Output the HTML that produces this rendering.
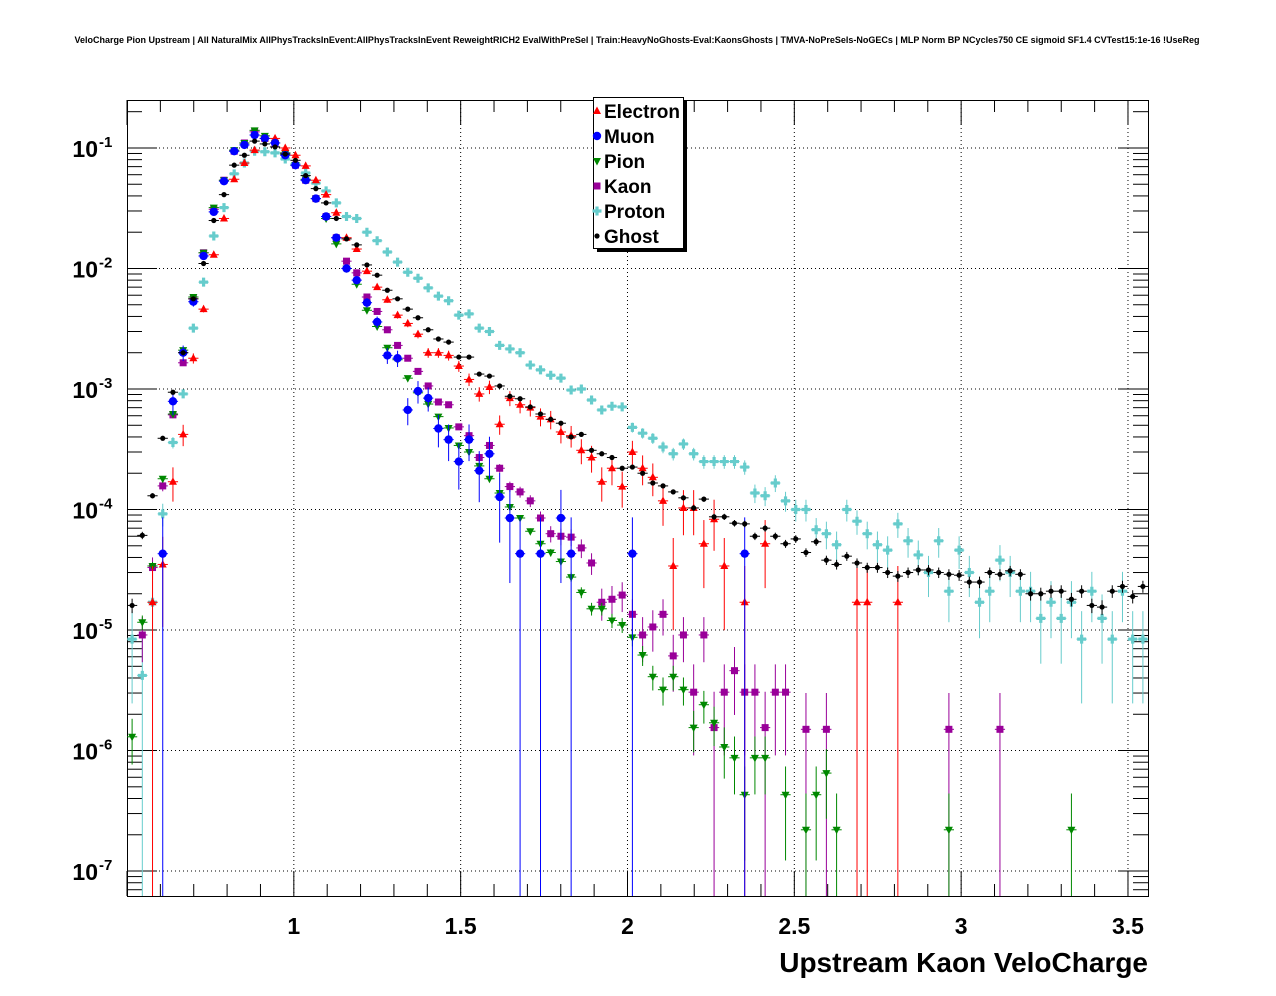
<!DOCTYPE html>
<html><head><meta charset="utf-8"><style>
html,body{margin:0;padding:0;background:#fff;}
svg{display:block;font-family:"Liberation Sans",Arial,sans-serif;}
</style></head><body>
<svg id="chart" width="1276" height="996" viewBox="0 0 1276 996" xmlns="http://www.w3.org/2000/svg">
<rect width="1276" height="996" fill="#fff"/>
<text x="637" y="43" text-anchor="middle" font-size="9" font-weight="bold">VeloCharge Pion Upstream | All NaturalMix AllPhysTracksInEvent:AllPhysTracksInEvent ReweightRICH2 EvalWithPreSel | Train:HeavyNoGhosts-Eval:KaonsGhosts | TMVA-NoPreSels-NoGECs | MLP Norm BP NCycles750 CE sigmoid SF1.4 CVTest15:1e-16 !UseReg</text>
<g id="grid"></g>
<g id="axes"></g>
<g id="series"></g>
<text x="1148" y="972" text-anchor="end" font-size="28" font-weight="bold">Upstream Kaon VeloCharge</text>
<g id="legend"></g>
</svg>
<script>
const categories = { xmin: 0.5, xmax: 3.56, nbins: 100 };
const electron = [null,null,1.7e-5,3.5e-5,1.7e-4,4.2e-4,1.8e-3,4.6e-3,1.3e-2,2.6e-2,
5.5e-2,7.5e-2,9.6e-2,1.2e-1,1.2e-1,1.0e-1,8.7e-2,7.1e-2,5.4e-2,4.1e-2,
2.9e-2,1.8e-2,1.45e-2,9.5e-3,7.0e-3,5.5e-3,4.1e-3,3.5e-3,2.85e-3,2.0e-3,
2.0e-3,1.9e-3,1.55e-3,1.2e-3,9.1e-4,1.04e-3,5.1e-4,8.4e-4,7.4e-4,7.0e-4,
5.9e-4,5.6e-4,4.4e-4,4.1e-4,3.1e-4,2.7e-4,1.7e-4,2.2e-4,1.55e-4,3.0e-4,
2.2e-4,1.85e-4,1.18e-4,3.4e-5,1.03e-4,1.03e-4,5.2e-5,8.3e-5,3.4e-5,null,
1.7e-5,null,5.2e-5,null,null,null,null,null,null,null,
null,1.7e-5,1.7e-5,null,null,1.7e-5,...Array(24).fill(null)];
const muon = [null,null,null,4.3e-5,7.9e-4,2.0e-3,5.3e-3,1.27e-2,2.95e-2,5.3e-2,
9.4e-2,1.06e-1,1.28e-1,1.2e-1,1.1e-1,8.7e-2,7.2e-2,5.4e-2,3.8e-2,2.7e-2,
1.8e-2,1.0e-2,8.0e-3,5.2e-3,3.6e-3,1.9e-3,1.8e-3,6.7e-4,9.6e-4,8.4e-4,
4.7e-4,3.8e-4,2.5e-4,3.8e-4,2.1e-4,2.9e-4,1.27e-4,8.5e-5,4.3e-5,null,
4.3e-5,null,8.5e-5,4.3e-5,null,null,null,null,null,4.3e-5,
...Array(10).fill(null),4.3e-5,...Array(39).fill(null)];
const pion = [1.3e-6,1.16e-5,3.4e-5,1.8e-4,6.2e-4,2.1e-3,5.8e-3,1.35e-2,3.2e-2,5.4e-2,
9.6e-2,1.1e-1,1.4e-1,1.26e-1,1.1e-1,9.1e-2,7.2e-2,5.5e-2,3.8e-2,2.6e-2,
1.6e-2,1.0e-2,7.4e-3,4.5e-3,3.3e-3,2.2e-3,1.75e-3,1.23e-3,9.3e-4,7.5e-4,
5.9e-4,4.75e-4,3.4e-4,3.0e-4,2.3e-4,1.8e-4,1.37e-4,1.05e-4,8.5e-5,6.6e-5,
5.2e-5,4.4e-5,3.7e-5,2.75e-5,2.05e-5,1.5e-5,1.5e-5,1.2e-5,1.1e-5,8.7e-6,
6.2e-6,4.1e-6,3.2e-6,4.1e-6,3.2e-6,1.55e-6,2.4e-6,1.7e-6,1.07e-6,8.7e-7,
4.3e-7,8.7e-7,8.7e-7,null,4.3e-7,null,2.2e-7,4.3e-7,6.5e-7,2.2e-7,
...Array(10).fill(null),2.2e-7,...Array(11).fill(null),2.2e-7,...Array(7).fill(null)];
const kaon = [null,9.1e-6,3.3e-5,1.57e-4,6.1e-4,1.65e-3,5.6e-3,1.35e-2,3.1e-2,5.4e-2,
9.4e-2,1.1e-1,1.36e-1,1.2e-1,1.1e-1,9.1e-2,7.2e-2,5.4e-2,3.8e-2,2.7e-2,
1.8e-2,1.15e-2,9.2e-3,5.8e-3,4.4e-3,3.1e-3,2.3e-3,1.8e-3,1.4e-3,1.06e-3,
7.8e-4,7.4e-4,4.85e-4,4.1e-4,2.7e-4,3.4e-4,2.2e-4,1.55e-4,1.4e-4,1.18e-4,
8.5e-5,6.3e-5,6.0e-5,5.9e-5,4.8e-5,3.6e-5,1.7e-5,1.8e-5,1.95e-5,1.35e-5,
9.1e-6,1.06e-5,1.35e-5,6.1e-6,9.1e-6,3.05e-6,9.1e-6,1.55e-6,3.05e-6,4.6e-6,
3.05e-6,3.05e-6,1.55e-6,3.05e-6,3.05e-6,null,1.5e-6,null,1.5e-6,
...Array(11).fill(null),1.5e-6,null,null,null,null,1.5e-6,...Array(14).fill(null)];
const proton = [8.4e-6,4.2e-6,1.7e-5,9.2e-5,3.6e-4,9.1e-4,3.2e-3,7.7e-3,1.86e-2,3.2e-2,
6.1e-2,7.5e-2,9.4e-2,9.3e-2,9.1e-2,8.1e-2,7.4e-2,6.2e-2,5.1e-2,4.4e-2,
3.5e-2,2.7e-2,2.6e-2,2.0e-2,1.7e-2,1.37e-2,1.13e-2,9.3e-3,8.3e-3,6.9e-3,
5.9e-3,5.4e-3,4.1e-3,4.2e-3,3.2e-3,3.0e-3,2.3e-3,2.15e-3,2.0e-3,1.58e-3,
1.44e-3,1.3e-3,1.23e-3,9.8e-4,1.0e-3,8.1e-4,6.7e-4,7.2e-4,7.1e-4,4.8e-4,
4.3e-4,3.9e-4,3.3e-4,2.9e-4,3.5e-4,2.9e-4,2.5e-4,2.5e-4,2.5e-4,2.5e-4,
2.25e-4,1.37e-4,1.3e-4,1.66e-4,1.18e-4,1.0e-4,1.0e-4,6.8e-5,6.3e-5,5.1e-5,
1.0e-4,8.0e-5,6.3e-5,5.1e-5,4.6e-5,7.6e-5,5.5e-5,4.2e-5,3.0e-5,5.5e-5,
2.1e-5,4.6e-5,3.0e-5,1.7e-5,2.1e-5,3.8e-5,3.0e-5,2.1e-5,2.1e-5,1.25e-5,
1.7e-5,1.25e-5,1.7e-5,8.4e-6,2.1e-5,1.25e-5,8.4e-6,2.1e-5,8.4e-6,8.4e-6];
const ghost = [1.6e-5,6.1e-5,1.3e-4,3.9e-4,9.4e-4,2.0e-3,5.6e-3,1.1e-2,2.5e-2,4.1e-2,
7.2e-2,8.7e-2,1.14e-1,1.08e-1,1.02e-1,8.9e-2,7.9e-2,5.9e-2,4.6e-2,3.5e-2,
2.6e-2,1.76e-2,1.57e-2,1.07e-2,8.8e-3,6.6e-3,5.6e-3,4.6e-3,3.9e-3,3.1e-3,
2.6e-3,2.45e-3,1.84e-3,1.84e-3,1.33e-3,1.28e-3,1.06e-3,8.7e-4,8.3e-4,7.1e-4,
6.2e-4,5.6e-4,5.2e-4,4.0e-4,4.2e-4,3.1e-4,2.9e-4,2.7e-4,2.2e-4,2.25e-4,
2.0e-4,1.66e-4,1.57e-4,1.4e-4,1.25e-4,1.03e-4,1.22e-4,8.7e-5,8.7e-5,7.7e-5,
7.6e-5,6.0e-5,7.0e-5,6.0e-5,5.2e-5,5.7e-5,4.4e-5,5.4e-5,3.8e-5,3.5e-5,
4.1e-5,3.6e-5,3.3e-5,3.3e-5,3.0e-5,2.8e-5,3.0e-5,3.15e-5,3.15e-5,3.0e-5,
2.9e-5,2.85e-5,2.5e-5,2.5e-5,3.0e-5,2.9e-5,3.1e-5,2.9e-5,2.0e-5,2.0e-5,
2.1e-5,2.1e-5,1.8e-5,2.1e-5,1.6e-5,1.55e-5,2.1e-5,2.3e-5,1.9e-5,2.3e-5];
const eventWeights = { electron:1.7e-5, muon:4.3e-5, pion:2.2e-7, kaon:1.5e-6, proton:4.2e-6, ghost:3e-7 };
const xTickLabels = ["1","1.5","2","2.5","3","3.5"];
const xTickValues = [1,1.5,2,2.5,3,3.5];
const yDecades = [-1,-2,-3,-4,-5,-6,-7];

const NS="http://www.w3.org/2000/svg";
const L=127,R=1148,T=100,B=896;
const YMINLOG=-7.207, YMAXLOG=-0.602;
function xs(v){return L+(v-categories.xmin)/(categories.xmax-categories.xmin)*(R-L);}
function ys(v){return B-(Math.log10(v)-YMINLOG)/(YMAXLOG-YMINLOG)*(B-T);}
function el(tag,attrs,parent){const e=document.createElementNS(NS,tag);for(const k in attrs)e.setAttribute(k,attrs[k]);parent.appendChild(e);return e;}

const grid=document.getElementById('grid'), axes=document.getElementById('axes'), ser=document.getElementById('series');
xTickValues.forEach(v=>{const l=el('line',{x1:xs(v),x2:xs(v),y1:T,y2:B,stroke:'#000','stroke-width':1,'stroke-dasharray':'1,3'},grid);

});
yDecades.forEach(d=>{const y=ys(Math.pow(10,d));const l=el('line',{x1:L,x2:R,y1:y,y2:y,stroke:'#000','stroke-width':1,'stroke-dasharray':'1,3'},grid);

});
const fr=el('rect',{x:L+0.5,y:T+0.5,width:R-L,height:B-T,fill:'none',stroke:'#000','stroke-width':1},axes);


for(let i=5;i<=35;i++){const v=i/10;const x=xs(v);const major=(i%5===0);const len=major?25:12;
el('line',{x1:x,x2:x,y1:B,y2:B-len,stroke:'#000'},axes);el('line',{x1:x,x2:x,y1:T,y2:T+len,stroke:'#000'},axes);}
xTickValues.forEach((v,i)=>{const t=el('text',{x:xs(v),y:934,'text-anchor':'middle','font-size':23,'font-weight':'bold'},axes);t.textContent=xTickLabels[i];

});
for(let d=-8;d<=-1;d++){for(let m=1;m<=9;m++){const v=m*Math.pow(10,d);const lg=Math.log10(v);if(lg<YMINLOG||lg>YMAXLOG)continue;const y=ys(v);const len=(m===1)?30:15;
el('line',{x1:L,x2:L+len,y1:y,y2:y,stroke:'#000'},axes);el('line',{x1:R,x2:R-len,y1:y,y2:y,stroke:'#000'},axes);}}
yDecades.forEach(d=>{const y=ys(Math.pow(10,d));const t=el('text',{x:98,y:y+9,'text-anchor':'end','font-size':23,'font-weight':'bold'},axes);t.textContent='10';


const s=el('text',{x:99,y:y-1,'font-size':15,'font-weight':'bold'},axes);s.textContent=String(d);

});

const defs=[
 {key:'proton',data:proton,color:'#66cccc',shape:'plus'},
 {key:'kaon',data:kaon,color:'#990099',shape:'square'},
 {key:'pion',data:pion,color:'#008800',shape:'tridown'},
 {key:'electron',data:electron,color:'#ff0000',shape:'triup'},
 {key:'muon',data:muon,color:'#0000ff',shape:'circle'},
 {key:'ghost',data:ghost,color:'#000000',shape:'dot'}];
function marker(g,shape,x,y,c){
 if(shape==='circle')return el('circle',{cx:x,cy:y,r:4.2,fill:c},g);
 if(shape==='dot')return el('circle',{cx:x,cy:y,r:2.6,fill:c},g);
 if(shape==='square')return el('rect',{x:x-3.5,y:y-3.5,width:7,height:7,fill:c},g);
 if(shape==='triup')return el('polygon',{points:`${x},${y-4.5} ${x+4},${y+3} ${x-4},${y+3}`,fill:c},g);
 if(shape==='tridown')return el('polygon',{points:`${x},${y+4.5} ${x+4},${y-3} ${x-4},${y-3}`,fill:c},g);
 if(shape==='plus'){return el('path',{d:`M${x-4.5},${y}H${x+4.5}M${x},${y-4.5}V${y+4.5}`,stroke:c,'stroke-width':3.2,fill:'none'},g);}
}
const bw=(categories.xmax-categories.xmin)/categories.nbins;
defs.forEach(s=>{
 const g=el('g',{},ser);
 
 
 const w=eventWeights[s.key];
 s.data.forEach((v,i)=>{
  if(v===null||v<=0)return;
  const xc=categories.xmin+(i+0.5)*bw;const x=xs(xc);const y=ys(v);
  const err=Math.sqrt(v*w);
  const yt=Math.max(T,ys(v+err));const lo=v-err;const yb=lo>Math.pow(10,YMINLOG)?Math.min(B,ys(lo)):B;
  el('line',{x1:xs(xc-bw/2),x2:xs(xc+bw/2),y1:y,y2:y,stroke:s.color,'stroke-width':1},g);
  if(y>=T&&y<=B||yb>T)el('line',{x1:x,x2:x,y1:yt,y2:yb,stroke:s.color,'stroke-width':1},g);
  if(y>=T&&y<=B){const m=marker(g,s.shape,x,y,s.color);
   
   }
 });
});

const lg=document.getElementById('legend');
el('rect',{x:597,y:101,width:90,height:151,fill:'#000'},lg);
const box=el('rect',{x:593.5,y:97.5,width:90,height:151,fill:'#fff',stroke:'#000'},lg);


const names=['Electron','Muon','Pion','Kaon','Proton','Ghost'];
const order=['electron','muon','pion','kaon','proton','ghost'];
order.forEach((k,i)=>{const d=defs.find(q=>q.key===k);const y=111+i*25;
 const m=marker(lg,d.shape,597,y,d.color);
 
 
 const t=el('text',{x:604,y:y+7,'font-size':19,'font-weight':'bold'},lg);t.textContent=names[i];
 
 });
</script>
</body></html>
